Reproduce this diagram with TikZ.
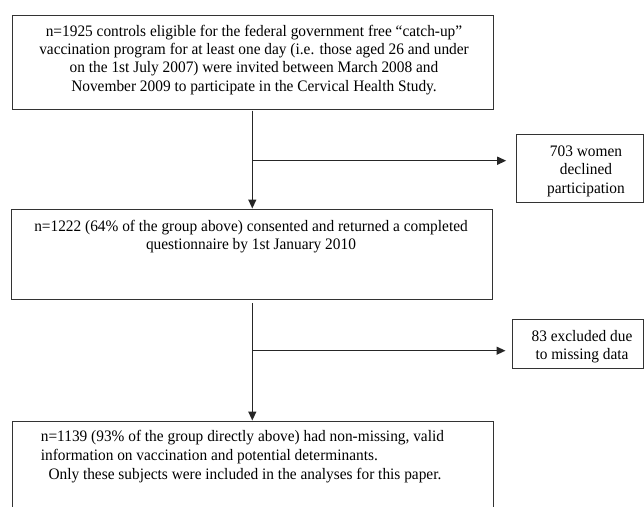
\documentclass[tikz,border=0pt]{standalone}
\usepackage{fontspec}
\setmainfont[FakeStretch=0.96]{Liberation Serif}
\usetikzlibrary{arrows.meta,positioning}
\tikzset{
  box/.style={draw=black!80, line width=1pt, inner sep=0pt},
  txt/.style={inner sep=0pt, align=center, anchor=base},
  flow/.style={-{Triangle[length=9pt,width=8pt]}, line width=1.3pt, draw=black!85, fill=black!85}
}
\begin{document}
\begin{tikzpicture}[x=1pt,y=-1pt]
\useasboundingbox (0,0) rectangle (644,506);
\clip (0,0) rectangle (644,506);
%
   \node [box, minimum width=480.3pt, minimum height=94pt] at (252.85,62) (invited) {};
   \node [box, minimum width=480.6pt, minimum height=90pt] at (252,254) (consented) {};
   \node [box, minimum width=480.6pt, minimum height=100pt] at (253,471) (included) {};
   \node [box, minimum width=126.6pt, minimum height=68.4pt] at (580,168.5) (declined) {};
   \node [box, minimum width=130.6pt, minimum height=49.3pt] at (578,343.7) (excluded) {};
%
   % base = last line
   \node [txt, font=\fontsize{16}{18.1}\selectfont] at (254,91) (invited txt) {n=1925 controls eligible for the federal government free “catch-up”\\
      vaccination program for at least one day (i.e. those aged 26 and under\\
      on the 1st July 2007) were invited between March 2008 and\\
      November 2009 to participate in the Cervical Health Study.};
   \node [txt, font=\fontsize{16}{17.5}\selectfont] at (251,249) (consented txt) {n=1222 (64\% of the group above) consented and returned a completed\\
      questionnaire by 1st January 2010};
   \node [txt, anchor=base west, align=left, font=\fontsize{16}{19}\selectfont] at (40.7,479) (included txt) {n=1139 (93\% of the group directly above) had non-missing, valid\\
      information on vaccination and potential determinants.\\
      \hspace*{7.6pt}Only these subjects were included in the analyses for this paper.};
   \node [txt, font=\fontsize{16}{18.6}\selectfont] at (586,193.3) (declined txt) {703 women\\ declined\\ participation};
   \node [txt, font=\fontsize{16}{17.7}\selectfont] at (582,359.3) (excluded txt) {83 excluded due\\ to missing data};
%
   \coordinate (split1) at (252.3,160.7);
   \coordinate (split2) at (252.3,350.7);
%
\draw[flow, shorten <=1pt] (invited.south -| split1) -- (consented.north -| split1);
\draw[flow, shorten >=10pt] (split1) -- (split1 -| declined.west);
\draw[flow, shorten <=3.7pt] (consented.south -| split2) -- (included.north -| split2);
\draw[flow, shorten >=6.7pt] (split2) -- (split2 -| excluded.west);
\end{tikzpicture}
\end{document}
